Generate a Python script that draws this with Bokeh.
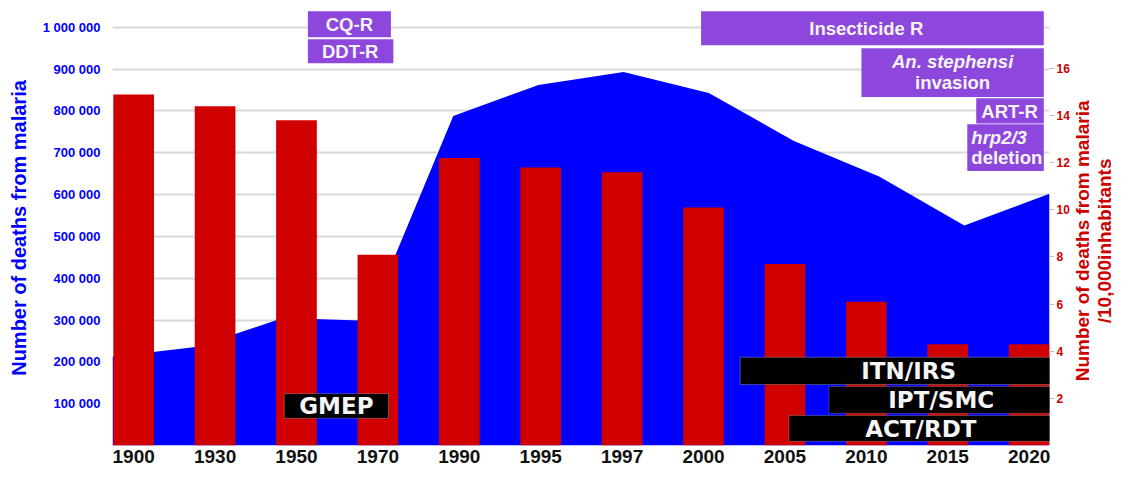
import math
from bokeh.plotting import figure
from bokeh.layouts import row
from bokeh.models import Range1d, LinearAxis, FixedTicker, BoxAnnotation, Label
from bokeh.core.properties import value
from bokeh.embed import file_html
from bokeh.resources import INLINE

# ---------------- data ----------------
years = ["1900", "1930", "1950", "1970", "1990", "1995", "1997", "2000", "2005", "2010", "2015", "2020"]
deaths = [212000, 236000, 305000, 298000, 788000, 862000, 893000, 843000, 728000, 643000, 526000, 602000]
rate_per_10000 = [14.9, 14.4, 13.8, 8.1, 12.2, 11.8, 11.6, 10.1, 7.7, 6.1, 4.3, 4.3]
left_ticks = [100000, 200000, 300000, 400000, 500000, 600000, 700000, 800000, 900000, 1000000]
left_tick_labels = ["100 000", "200 000", "300 000", "400 000", "500 000", "600 000",
                    "700 000", "800 000", "900 000", "1 000 000"]
right_ticks = [2, 4, 6, 8, 10, 12, 14, 16]
right_title = "Number of deaths from malaria\n/10,000inhabitants"

# ---------------- styling / layout ----------------
BLUE = "#0000FF"
RED = "#D10000"
DARKRED = "#CC0000"
PURPLE = "#8E47DC"
X0, X1 = -0.26, 11.25
H = 472

p = figure(width=1072, height=H, x_range=Range1d(X0, X1), y_range=Range1d(0, 1040000),
           output_backend="svg", toolbar_location=None,
           min_border_left=112, min_border_right=22, min_border_top=10, min_border_bottom=27)
p.outline_line_color = None
p.extra_y_ranges = {"rate": Range1d(0, 18.46)}

n = len(years)
# area series is plotted edge to edge of the category axis
area_x = [X0 + i * (X1 - X0) / (n - 1) for i in range(n)]
p.varea(x=area_x, y1=[0] * n, y2=deaths, fill_color=BLUE)
p.vbar(x=list(range(n)), width=0.5, top=rate_per_10000, bottom=0, y_range_name="rate",
       fill_color=RED, line_color=None)

# grid
p.xgrid.grid_line_color = None
p.ygrid.grid_line_color = "#D9D9D9"
p.ygrid.grid_line_width = 2

# left axis
ya = p.yaxis[0]
ya.ticker = FixedTicker(ticks=left_ticks)
ya.major_label_overrides = {t: s for t, s in zip(left_ticks, left_tick_labels)}
ya.major_label_text_color = BLUE
ya.major_label_text_font = "Liberation Sans"
ya.major_label_text_font_style = "bold"
ya.major_label_text_font_size = "13px"
ya.major_label_standoff = 12
ya.axis_line_color = None
ya.major_tick_line_color = None
ya.minor_tick_line_color = None
ya.major_tick_out = 0
ya.major_tick_in = 0
ya.axis_label = "Number of deaths from malaria"
ya.axis_label_text_color = BLUE
ya.axis_label_text_font = "Liberation Sans"
ya.axis_label_text_font_style = "bold"
ya.axis_label_text_font_size = "20px"
ya.axis_label_standoff = 10

# bottom axis
xa = p.xaxis[0]
xa.ticker = FixedTicker(ticks=list(range(n)))
xa.major_label_overrides = {i: y for i, y in enumerate(years)}
xa.major_label_text_color = "#111111"
xa.major_label_text_font = "Liberation Sans"
xa.major_label_text_font_style = "bold"
xa.major_label_text_font_size = "19px"
xa.major_label_standoff = 4
xa.axis_line_color = None
xa.major_tick_line_color = None
xa.minor_tick_line_color = None
xa.major_tick_out = 0
xa.major_tick_in = 0

# right axis
ra = LinearAxis(y_range_name="rate", ticker=FixedTicker(ticks=right_ticks))
ra.major_label_text_color = DARKRED
ra.major_label_text_font = "Liberation Sans"
ra.major_label_text_font_style = "bold"
ra.major_label_text_font_size = "12px"
ra.major_label_standoff = 2
ra.axis_line_color = None
ra.major_tick_line_color = "#BFBFBF"
ra.major_tick_out = 5
ra.major_tick_in = 0
ra.minor_tick_line_color = None
p.add_layout(ra, "right")

# ---------------- annotations ----------------
purple_boxes = [
    (2.14, 3.16, 1038000, 976000),
    (2.14, 3.19, 971000, 914000),
    (6.97, 11.18, 1038000, 957000),
    (8.94, 11.18, 950000, 833000),
    (10.35, 11.18, 830000, 770000),
    (10.24, 11.18, 768000, 656000),
]
for l, r, t, b in purple_boxes:
    p.add_layout(BoxAnnotation(left=l, right=r, top=t, bottom=b, fill_color=PURPLE,
                               fill_alpha=1, line_color=None))

purple_texts = [
    ("CQ-R", 2.65, 1007000, "center", "bold"),
    ("DDT-R", 2.66, 943000, "center", "bold"),
    ("Insecticide R", 9.0, 996000, "center", "bold"),
    ("An. stephensi", 10.06, 919000, "center", "bold italic"),
    ("invasion", 10.06, 868000, "center", "bold"),
    ("ART-R", 10.76, 799000, "center", "bold"),
    ("hrp2/3", 10.29, 737000, "left", "bold italic"),
    ("deletion", 10.29, 689000, "left", "bold"),
]
for txt, x, y, al, st in purple_texts:
    p.add_layout(Label(x=x, y=y, text=txt, text_align=al, text_baseline="middle",
                       text_color="#F4F4F4", text_font="Liberation Sans",
                       text_font_style=st, text_font_size="18.5px"))

black_boxes = [
    ("GMEP", 1.85, 3.13, 124000, 65000, 2.49, 95000, "#CFCFCF"),
    ("ITN/IRS", 7.45, 11.26, 211000, 146000, 9.52, 177000, "#E6E6E6"),
    ("IPT/SMC", 8.54, 11.26, 141000, 77000, 9.92, 108000, "#E3A0A0"),
    ("ACT/RDT", 8.05, 11.26, 72000, 10000, 9.67, 40000, "#CFCFCF"),
]
for txt, l, r, t, b, tx, ty, lc in black_boxes:
    p.add_layout(BoxAnnotation(left=l, right=r, top=t, bottom=b, fill_color="#000000",
                               fill_alpha=1, line_color=lc, line_width=1))
    p.add_layout(Label(x=tx, y=ty, text=txt, text_align="center", text_baseline="middle",
                       text_color="#F5F5F5", text_font="DejaVu Sans",
                       text_font_style="bold", text_font_size="23px"))

# ---------------- right-hand title panel ----------------
W2 = 1114 - 1072
p2 = figure(width=W2, height=H, x_range=Range1d(0, W2), y_range=Range1d(0, H),
            output_backend="svg", toolbar_location=None,
            min_border_left=0, min_border_right=0, min_border_top=0, min_border_bottom=0)
p2.axis.visible = False
p2.grid.visible = False
p2.outline_line_color = None
p2.text(x=[21], y=[H - 250], text=[right_title], angle=math.pi / 2,
        text_align="center", text_baseline="middle", text_color=DARKRED,
        text_font=value("Liberation Sans"), text_font_style="bold",
        text_font_size="19px", text_line_height=1.05)

layout = row(p, p2)
open("out.html", "w").write(file_html(layout, INLINE))
